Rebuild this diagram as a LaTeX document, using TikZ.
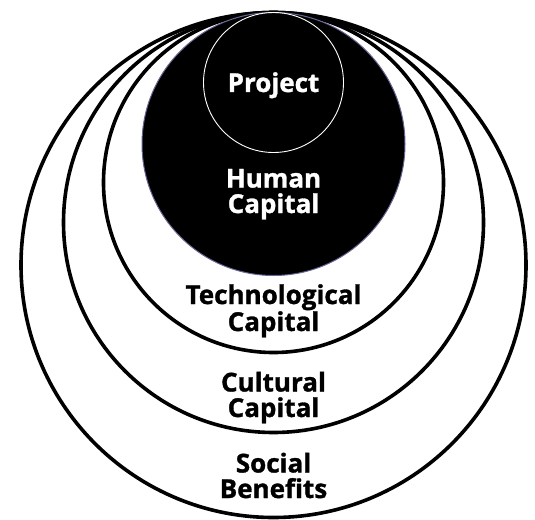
\documentclass[tikz,border=0pt]{standalone}
\usepackage{fontspec}
\setmainfont{Open Sans}[BoldFont={Open Sans Bold},BoldFeatures={FakeBold=1.2}]
\begin{document}
\begin{tikzpicture}[x=1pt,y=-1pt,
  ring/.style={draw=black,line width=3.6pt},
  lbl/.style={font=\bfseries\fontsize{26}{25.5}\selectfont,align=center,inner sep=0pt,anchor=base},
]
\useasboundingbox (0,0) rectangle (535,519);
% nested rings, all touching at the top
\draw[ring] (273.5,265) circle[radius=252.5];
\draw[ring] (273.5,222.5) circle[radius=210];
\draw[ring] (273.5,182.5) circle[radius=170];
% inner core
\fill[black,draw=black!70!blue!60!white,line width=1pt] (273.5,144) circle[radius=131.5];
\draw[white,line width=0.9pt] (273.5,82.5) circle[radius=70];
% labels (anchored at the baseline of their last line)
\node[lbl,text=white] (project) at (273.5,92) {Project};
\node[lbl,text=white] (human) at (273.5,213) {Human\\Capital};
\node[lbl] (tech) at (273.5,331) {Technological\\Capital};
\node[lbl] (cult) at (273.5,417) {Cultural\\Capital};
\node[lbl] (social) at (273.5,498) {Social\\Benefits};
\end{tikzpicture}
\end{document}
